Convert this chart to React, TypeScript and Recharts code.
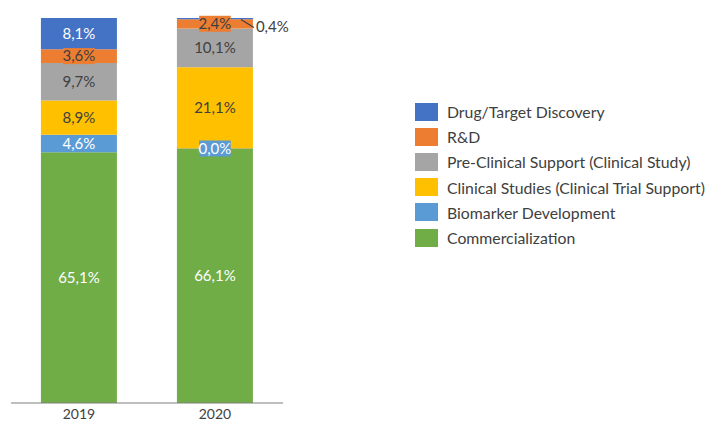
import { BarChart, Bar, XAxis, YAxis, LabelList } from "recharts";

const years = ["2019", "2020"];
const commercialization = [65.1, 66.1];
const biomarker = [4.6, 0.0];
const clinicalStudies = [8.9, 21.1];
const preClinical = [9.7, 10.1];
const rnd = [3.6, 2.4];
const drugDiscovery = [8.1, 0.4];

const series = [
  { key: "comm", name: "Commercialization", values: commercialization, color: "#70AD47", text: "#ffffff" },
  { key: "bio", name: "Biomarker Development", values: biomarker, color: "#5B9BD5", text: "#ffffff" },
  { key: "clin", name: "Clinical Studies (Clinical Trial Support)", values: clinicalStudies, color: "#FFC000", text: "#404040" },
  { key: "pre", name: "Pre-Clinical Support (Clinical Study)", values: preClinical, color: "#A5A5A5", text: "#404040" },
  { key: "rnd", name: "R&D", values: rnd, color: "#ED7D31", text: "#404040" },
  { key: "drug", name: "Drug/Target Discovery", values: drugDiscovery, color: "#4472C4", text: "#ffffff" },
];

const data = years.map((year, i) => {
  const row: Record<string, string | number> = { year };
  series.forEach((s) => {
    row[s.key] = s.values[i];
  });
  return row;
});

const FONT = "Lato, 'Open Sans', sans-serif";
const fmt = (v: number) => v.toFixed(1).replace(".", ",") + "%";

const makeLabel = (color: string, textColor: string) => (props: any) => {
  const { x, y, width, height, value } = props;
  const v = Number(value);
  const label = fmt(v);
  const cx = x + width / 2;
  // zero-height bars get a 1px min size, so centre on the stack boundary
  const cy = v === 0 ? y + height : y + height / 2;
  if (v > 0 && v < 1) {
    // small slice: label outside with leader line
    return (
      <g>
        <line x1={x + width - 12} y1={cy + 1} x2={x + width + 1} y2={cy + 9} stroke="#404040" strokeWidth={1.2} />
        <text x={x + width + 3} y={cy + 8} dy="0.35em" fill="#404040" fontSize={15} fontFamily={FONT}>
          {label}
        </text>
      </g>
    );
  }
  const w = label.length * 7.4 + 2;
  return (
    <g>
      <rect x={cx - w / 2} y={cy - 8} width={w} height={16} fill={color} />
      <text x={cx} y={cy} dy="0.35em" textAnchor="middle" fill={textColor} fontSize={15} fontFamily={FONT}>
        {label}
      </text>
    </g>
  );
};

const LegendBox = () => (
  <div style={{ position: "absolute", left: 415, top: 99, fontFamily: FONT, fontSize: 15.8, color: "#404040" }}>
    {[...series].reverse().map((s) => (
      <div key={s.key} style={{ display: "flex", alignItems: "center", height: 25.2, whiteSpace: "nowrap" }}>
        <span style={{ display: "inline-block", width: 23, height: 18, background: s.color, marginRight: 9 }} />
        <span>{s.name}</span>
      </div>
    ))}
  </div>
);

export default function App() {
  return (
    <div style={{ position: "absolute", left: 0, top: 0, width: 708, height: 423, background: "#fff" }}>
      <BarChart width={708} height={423} data={data} margin={{ top: 18, right: 425, bottom: 0, left: 11 }} barCategoryGap="22%">
        <XAxis
          dataKey="year"
          height={20}
          axisLine={{ stroke: "#7f7f7f" }}
          tickLine={false}
          tick={{ fill: "#404040", fontSize: 14, fontFamily: FONT }}
          dy={-2}
        />
        <YAxis hide type="number" domain={[0, 100]} allowDataOverflow />
        {series.map((s) => (
          <Bar
            key={s.key}
            dataKey={s.key}
            name={s.name}
            stackId="a"
            fill={s.color}
            minPointSize={s.key === "bio" ? 1 : 0}
            isAnimationActive={false}
          >
            <LabelList dataKey={s.key} content={makeLabel(s.color, s.text)} />
          </Bar>
        ))}
      </BarChart>
      <LegendBox />
    </div>
  );
}
